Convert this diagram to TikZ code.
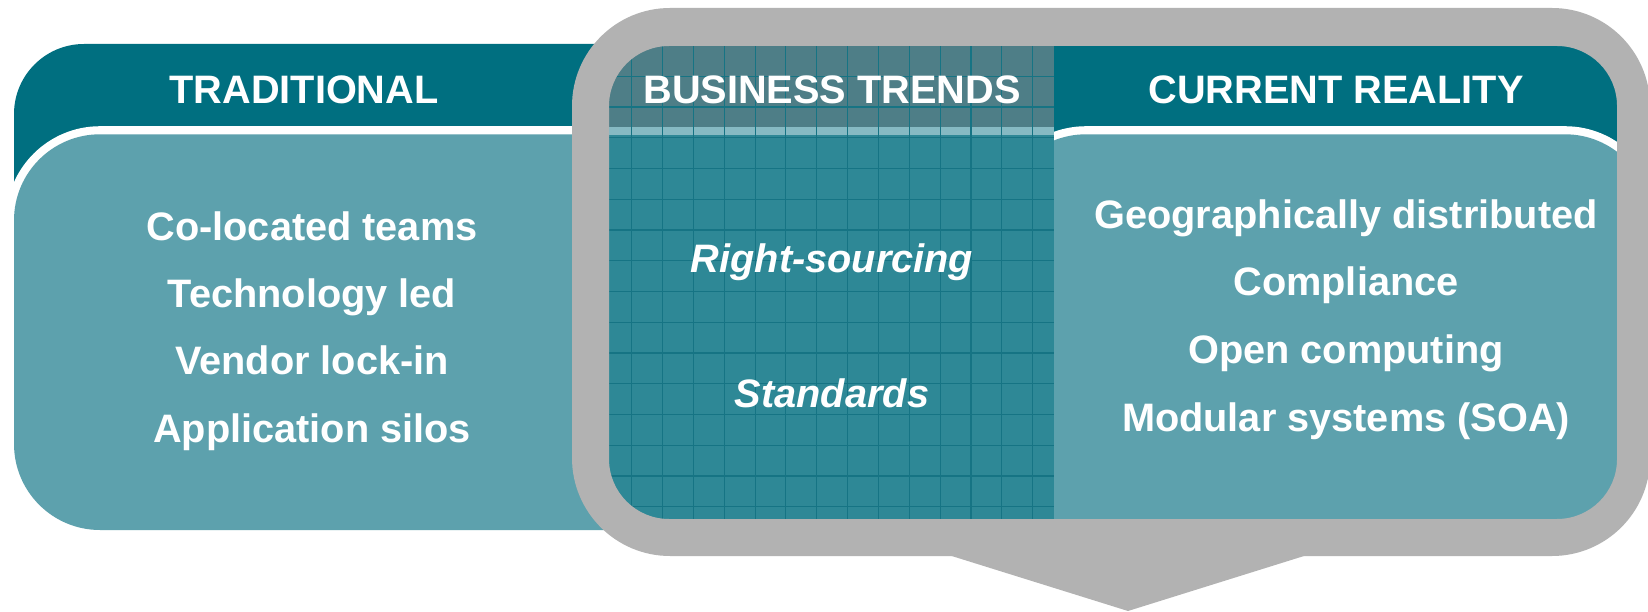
\documentclass[tikz,border=0pt]{standalone}
\usepackage{fontspec}
\setmainfont{Liberation Sans}
\definecolor{tealdark}{RGB}{0,111,128}
\definecolor{teallight}{RGB}{93,161,173}
\definecolor{tealmid}{RGB}{46,136,150}
\definecolor{tealgrey}{RGB}{78,126,135}
\definecolor{tealband}{RGB}{134,186,195}
\definecolor{gridteal}{RGB}{22,116,132}
\definecolor{framegrey}{RGB}{178,178,178}

\begin{document}
\begin{tikzpicture}[x=0.1mm,y=-0.1mm]
\tikzset{head/.style={text=white,font=\fontsize{11.3}{13}\selectfont\bfseries,anchor=base,inner sep=0pt}}
\tikzset{item/.style={head}}
\tikzset{trend/.style={head,font=\fontsize{11.3}{13}\selectfont\bfseries\itshape}}
\tikzset{gridline/.style={draw=gridteal,line width=0.3pt}}
\tikzset{panelbody/.style={fill=teallight,preaction={draw=white,line width=4.6pt}}}
\useasboundingbox (0,0) rectangle (1648,612);

% left panel
\fill[tealdark,rounded corners=7mm] (14,44) rectangle (700,300);
\path[panelbody,rounded corners=8.6mm] (14,134.3) rectangle (700,530);

% right panel
\fill[tealdark] (1000,46) rectangle (1625,300);
\path[panelbody,rounded corners=8.6mm] (1000,134.3) rectangle (1651,540);

% middle column with grid
\fill[tealmid] (605,46) rectangle (1054,522);
\fill[tealgrey] (605,46) rectangle (1054,127.5);
\fill[tealband] (605,127.5) rectangle (1054,135);
\foreach \gx in {1,...,14}
  \draw[gridline] ({600.8+30.85*\gx},46) -- ({600.8+30.85*\gx},522);
\foreach \gy in {1,...,15}
  \draw[gridline] (605,{45.5+30.75*\gy}) -- (1054,{45.5+30.75*\gy});

% grey frame with pointer
\fill[framegrey,even odd rule] [rounded corners=9.8mm] (572,8) rectangle (1650,556)
  [rounded corners=6mm] (609,46) rectangle (1617,519);
\fill[framegrey] (951.7,550) -- (1304,550) -- (1304,556) -- (1128,611) -- (951.7,556) -- cycle;

% headers
\node[head] (trad) at (304,103.7) {TRADITIONAL};
\node[head] (trends) at (832,103.7) {BUSINESS TRENDS};
\node[head] (reality) at (1336,103.7) {CURRENT REALITY};

% items
\foreach \txt [count=\i] in {Co-located teams,Technology led,Vendor lock-in,Application silos}
  \node[item] (trad\i) at (312,{240.2+67.3*(\i-1)}) {\txt};
\node[trend] (trends1) at (832,272.7) {Right-sourcing};
\node[trend] (trends2) at (832,407) {Standards};
\foreach \txt [count=\i] in {Geographically distributed,Compliance,Open computing,Modular systems (SOA)}
  \node[item] (reality\i) at (1346,{228.4+67.6*(\i-1)}) {\txt};
\end{tikzpicture}
\end{document}
